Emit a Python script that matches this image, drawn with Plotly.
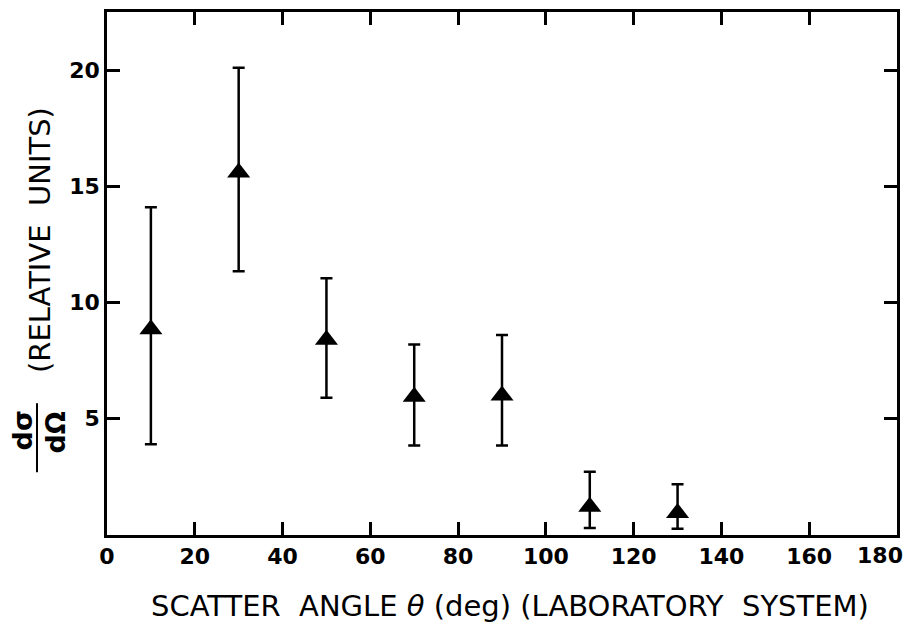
import plotly.graph_objects as go

# Differential cross section vs. laboratory scatter angle
angle_deg = [10, 30, 50, 70, 90, 110, 130]
cross_section = [8.85, 15.6, 8.4, 5.95, 6.0, 1.22, 0.95]
err_upper = [14.1, 20.1, 11.05, 8.2, 8.6, 2.72, 2.18]
err_lower = [3.9, 11.35, 5.9, 3.85, 3.85, 0.3, 0.27]

x_ticks = [0, 20, 40, 60, 80, 100, 120, 140, 160, 180]
x_tick_text = ["0", "20", "40", "60", "80", "100", "120", "140", "160", ""]
x_end_tick = [180]
x_end_text = ["180"]
y_ticks = [5, 10, 15, 20]

plus = [u - v for u, v in zip(err_upper, cross_section)]
minus = [v - l for v, l in zip(cross_section, err_lower)]

tick_font = dict(family="DejaVu Sans", size=22, color="black", weight="bold")
title_font = dict(family="DejaVu Sans", size=29, color="black")
frac_font = dict(family="DejaVu Sans", size=27, color="black", weight="bold")

fig = go.Figure()
fig.add_trace(go.Scatter(
    x=angle_deg, y=cross_section, mode="markers",
    marker=dict(symbol="triangle-up", size=20, color="black"),
    error_y=dict(type="data", symmetric=False, array=plus, arrayminus=minus,
                 color="black", thickness=2.5, width=6),
    showlegend=False,
))
# empty trace that registers the overlay axis carrying the last x label
fig.add_trace(go.Scatter(x=[], y=[], xaxis="x2", yaxis="y",
                         showlegend=False, hoverinfo="skip"))

axis_common = dict(
    showline=True, linecolor="black", linewidth=2.5, mirror="ticks",
    ticks="inside", ticklen=13, tickwidth=2.5, tickcolor="black",
    showgrid=False, zeroline=False, tickfont=tick_font, automargin=False,
)

fig.update_layout(
    xaxis=dict(range=[0, 180], tickvals=x_ticks, ticktext=x_tick_text,
               **axis_common),
    yaxis=dict(range=[0, 22.5], tickvals=y_ticks,
               ticktext=[str(t) for t in y_ticks], **axis_common),
    # last x label is pulled in from the right corner
    xaxis2=dict(
        overlaying="x", anchor="y", side="bottom", range=[0, 180],
        tickvals=x_end_tick, ticktext=x_end_text, ticklabelshift=-17,
        ticklabelstandoff=5,
        ticks="", showline=False, showgrid=False, zeroline=False,
        tickfont=tick_font, automargin=False, ticklabeloverflow="allow",
    ),
)

# x axis title
fig.add_annotation(
    text="SCATTER  ANGLE <i>θ</i> (deg) (LABORATORY  SYSTEM)",
    xref="paper", yref="paper", x=0.51, y=-0.1358,
    xanchor="center", yanchor="middle",
    showarrow=False, font=title_font,
)

# y axis title: dσ/dΩ fraction followed by units
fig.add_annotation(
    text="(RELATIVE  UNITS)", textangle=-90,
    xref="paper", yref="paper", x=-0.0848, y=0.564,
    xanchor="center", yanchor="middle", showarrow=False, font=title_font,
)
fig.add_annotation(
    text="dσ", textangle=-90,
    xref="paper", yref="paper", x=-0.1076, y=0.2,
    xanchor="center", yanchor="middle", showarrow=False, font=frac_font,
)
fig.add_annotation(
    text="dΩ", textangle=-90,
    xref="paper", yref="paper", x=-0.0658, y=0.196,
    xanchor="center", yanchor="middle", showarrow=False, font=frac_font,
)
fig.add_shape(
    type="line", xref="paper", yref="paper",
    x0=-0.0886, x1=-0.0886, y0=0.12, y1=0.252,
    line=dict(color="black", width=2),
)

fig.update_layout(
    width=910, height=624,
    margin=dict(l=107, r=13, t=12, b=89, autoexpand=False),
    paper_bgcolor="white", plot_bgcolor="white",
)

fig.write_html("out.html")
